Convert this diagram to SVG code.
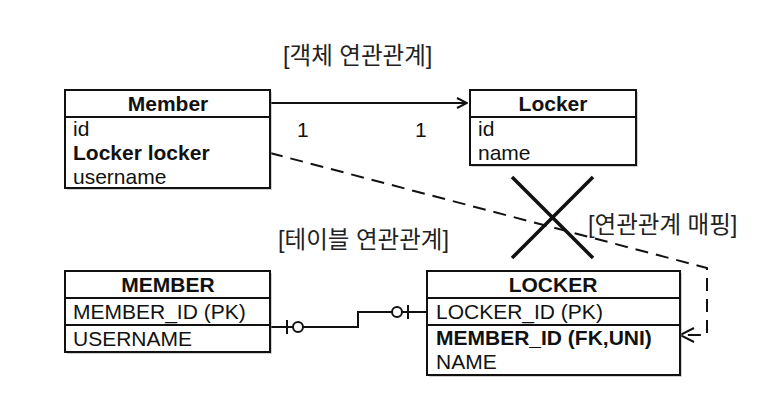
<svg xmlns="http://www.w3.org/2000/svg" width="774" height="410" viewBox="0 0 774 410">
<defs>
<style>
.box{fill:#fff;stroke:#111;stroke-width:2}
.shadow{fill:#999;opacity:0.45}
.ln{stroke:#111;stroke-width:2;fill:none}
.x{stroke:#111;stroke-width:3.5;fill:none}
.t{font-family:"Liberation Sans",Arial,sans-serif;font-size:21px;fill:#111}
.h{font-family:"Liberation Sans",Arial,sans-serif;font-size:21px;font-weight:bold;fill:#111;text-anchor:middle}
.b{font-weight:bold}
.k{font-family:"Liberation Sans","Noto Sans CJK KR",sans-serif;font-size:23.5px;fill:#222}
</style>
<marker id="open" viewBox="0 0 12 12" refX="11" refY="6" markerWidth="12" markerHeight="12" markerUnits="userSpaceOnUse" orient="auto">
<path d="M1,1 L11,6 L1,11" fill="none" stroke="#111" stroke-width="2"/>
</marker>
<marker id="open2" viewBox="0 0 16 16" refX="15" refY="8" markerWidth="16" markerHeight="16" markerUnits="userSpaceOnUse" orient="auto">
<path d="M1,1 L15,8 L1,15" fill="none" stroke="#111" stroke-width="2"/>
</marker>
</defs>
<rect width="774" height="410" fill="#fff"/>

<text class="k" x="283" y="64">[객체 연관관계]</text>
<text class="k" x="278" y="248">[테이블 연관관계]</text>
<text class="k" x="588" y="233">[연관관계 매핑]</text>

<g id="connectors">
<line class="ln" x1="270" y1="103" x2="467" y2="103" marker-end="url(#open)"/>
<text class="t" x="297" y="137">1</text>
<text class="t" x="415" y="137">1</text>
<path class="ln" stroke-dasharray="13,8" d="M270,153 L707,268 L707,335 L680,335" marker-end="url(#open2)"/>
<line class="x" x1="512" y1="177" x2="593" y2="258"/>
<line class="x" x1="593" y1="177" x2="512" y2="258"/>
<path class="ln" d="M270,327 L358,327 L358,312 L427,312"/>
<line class="ln" x1="287" y1="320" x2="287" y2="334"/>
<circle cx="298" cy="327" r="5" fill="#fff" stroke="#111" stroke-width="2"/>
<circle cx="397" cy="312" r="5" fill="#fff" stroke="#111" stroke-width="2"/>
<line class="ln" x1="408" y1="305" x2="408" y2="319"/>
</g>

<g id="Member">
<rect class="shadow" x="67" y="92" width="205" height="98"/>
<rect class="box" x="65" y="90" width="205" height="98"/>
<line class="ln" x1="65" y1="117" x2="270" y2="117"/>
<text class="h" x="168" y="111">Member</text>
<text class="t" x="73" y="136">id</text>
<text class="t b" x="73" y="160">Locker locker</text>
<text class="t" x="73" y="184">username</text>
</g>

<g id="Locker">
<rect class="shadow" x="472" y="92" width="166" height="75"/>
<rect class="box" x="470" y="90" width="166" height="75"/>
<line class="ln" x1="470" y1="117" x2="636" y2="117"/>
<text class="h" x="553" y="111">Locker</text>
<text class="t" x="478" y="136">id</text>
<text class="t" x="478" y="160">name</text>
</g>

<g id="MEMBER">
<rect class="shadow" x="67" y="273" width="205" height="81"/>
<rect class="box" x="65" y="271" width="205" height="81"/>
<line class="ln" x1="65" y1="298" x2="270" y2="298"/>
<line class="ln" x1="65" y1="325" x2="270" y2="325"/>
<text class="h" x="168" y="292">MEMBER</text>
<text class="t" x="73" y="319">MEMBER_ID (PK)</text>
<text class="t" x="73" y="346">USERNAME</text>
</g>

<g id="LOCKER">
<rect class="shadow" x="429" y="273" width="253" height="104"/>
<rect class="box" x="427" y="271" width="253" height="104"/>
<line class="ln" x1="427" y1="298" x2="680" y2="298"/>
<line class="ln" x1="427" y1="325" x2="680" y2="325"/>
<text class="h" x="553" y="292">LOCKER</text>
<text class="t" x="436" y="319">LOCKER_ID (PK)</text>
<text class="t b" x="436" y="345">MEMBER_ID (FK,UNI)</text>
<text class="t" x="436" y="369">NAME</text>
</g>
</svg>
